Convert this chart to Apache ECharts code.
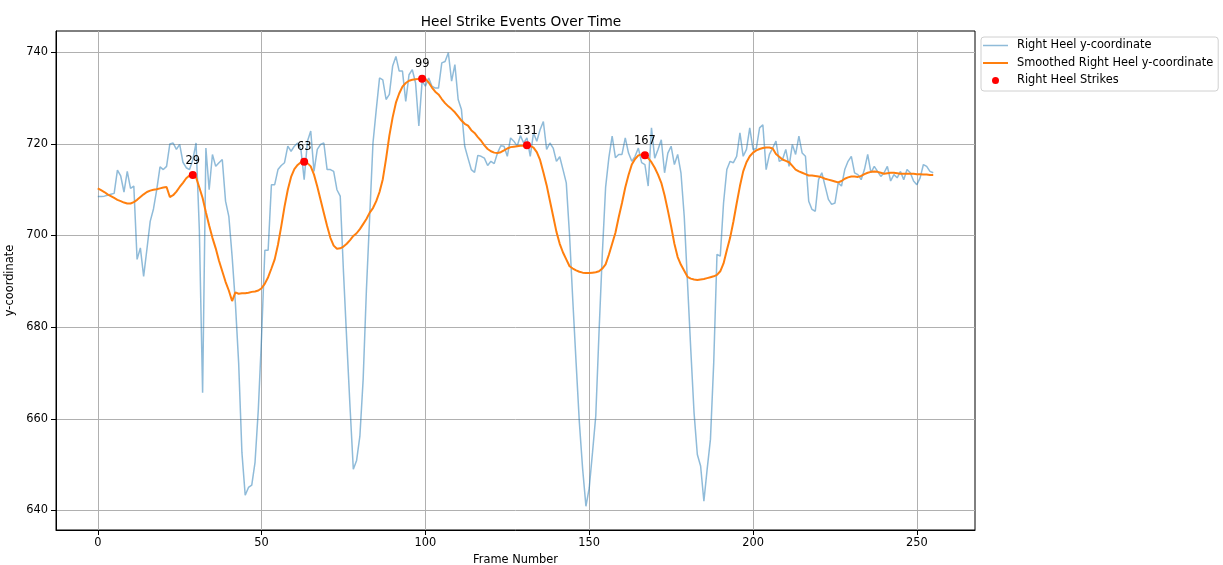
<!DOCTYPE html>
<html>
<head>
<meta charset="utf-8">
<script src="https://cdn.jsdelivr.net/npm/echarts@6/dist/echarts.min.js"></script>
<style>html,body{margin:0;padding:0;background:#fff}#c{width:1223px;height:565px}</style>
</head>
<body>
<div id="c"></div>
<script>
const rawY = [708.5,708.5,708.6,708.8,709.0,709.2,714.3,713.0,709.5,714.0,
710.3,710.8,694.8,697.3,691.1,697.0,703.1,705.8,710.0,715.0,
714.4,715.1,720.0,720.2,718.8,719.9,716.0,714.8,714.4,716.5,
720.2,701.3,665.7,719.1,710.0,717.7,715.1,715.9,716.6,707.5,
704.2,695.5,685.3,672.2,652.6,643.3,645.0,645.5,650.5,662.0,
678.0,696.8,696.8,711.1,711.1,714.4,715.3,715.9,719.5,718.4,
719.5,720.2,718.8,712.2,720.6,722.8,714.0,718.8,719.9,720.2,
714.4,714.4,714.0,710.0,708.6,692.0,677.0,662.5,649.0,650.9,
656.2,668.6,688.2,704.2,720.2,727.5,734.4,734.0,729.7,730.8,
737.0,739.1,735.9,735.9,729.3,735.1,736.2,733.3,723.9,733.7,
732.6,734.4,732.6,732.2,732.2,737.7,738.0,739.9,733.7,737.3,
729.7,727.5,719.5,716.9,714.4,713.8,717.5,717.3,716.9,715.3,
716.2,715.7,718.0,719.6,719.5,717.3,721.3,720.6,719.5,721.8,
720.2,721.3,717.3,722.4,720.6,723.1,724.9,718.8,720.2,719.1,
716.2,717.2,714.4,711.5,700.0,685.7,672.2,659.1,649.0,640.9,
644.9,652.6,660.6,679.0,696.0,710.5,717.0,721.7,717.0,717.7,
717.7,721.3,718.0,716.2,717.3,719.1,715.9,715.5,710.8,723.5,
716.9,718.8,720.9,713.7,718.0,719.5,715.5,717.7,713.7,704.2,
689.7,675.1,661.3,652.2,649.7,642.0,649.0,655.5,672.2,695.9,
695.5,707.1,714.4,716.2,715.9,717.3,722.4,717.3,718.8,723.5,
718.8,719.0,723.5,724.2,714.4,717.7,719.1,720.6,716.2,716.6,
718.8,715.1,719.9,717.7,721.7,718.0,717.3,707.5,705.7,705.3,
712.2,713.7,710.8,707.9,706.8,707.1,711.5,710.8,714.4,716.2,
717.3,713.7,713.3,712.2,714.4,717.7,713.7,715.1,714.0,712.9,
713.7,715.1,711.9,713.3,712.6,714.0,712.2,714.4,713.7,711.9,
711.1,712.6,715.5,715.1,714.0,713.7];

const smoothY = [710.3,709.9,709.5,709.0,708.6,708.2,707.8,707.5,707.2,707.0,
707.0,707.3,707.8,708.4,709.0,709.5,709.8,710.0,710.1,710.3,
710.5,710.6,708.4,708.8,709.6,710.6,711.5,712.5,713.1,713.2,
712.7,710.5,708.2,705.1,702.2,699.5,697.2,694.5,692.2,689.9,
688.0,685.7,687.6,687.3,687.4,687.4,687.5,687.7,687.8,688.0,
688.5,689.5,690.9,692.8,694.8,698.0,702.0,706.3,710.0,712.8,
714.5,715.4,716.0,716.1,715.8,715.1,713.3,710.7,707.8,704.9,
702.1,699.5,697.8,697.1,697.2,697.6,698.2,699.0,699.9,700.5,
701.4,702.5,703.6,705.0,706.0,707.5,709.5,712.3,716.8,721.8,
725.8,729.0,731.0,732.5,733.3,733.8,734.0,734.1,734.2,734.2,
734.2,733.4,732.3,731.4,730.8,729.8,728.9,728.2,727.6,726.9,
726.0,725.1,724.4,724.0,723.0,722.4,721.5,720.7,719.7,718.9,
718.4,718.1,718.0,718.2,718.6,719.0,719.3,719.4,719.5,719.6,
719.6,719.7,719.6,719.2,718.2,716.5,713.8,711.0,707.6,704.2,
700.8,698.2,696.3,694.8,693.3,692.8,692.4,692.1,691.9,691.8,
691.8,691.9,692.0,692.2,692.8,693.7,695.8,698.2,700.6,704.0,
707.1,710.5,713.2,715.5,716.7,717.5,717.7,717.5,716.9,716.0,
714.8,713.3,711.5,708.8,705.5,702.0,698.2,695.3,693.6,692.3,
691.0,690.6,690.4,690.3,690.4,690.5,690.7,690.9,691.1,691.4,
692.2,693.9,696.8,699.5,703.0,707.0,710.8,714.0,716.0,717.3,
718.1,718.6,718.9,719.1,719.2,719.2,719.0,717.8,717.2,716.6,
716.3,716.0,715.2,714.4,714.0,713.7,713.4,713.1,713.1,713.0,
712.9,712.7,712.4,712.2,712.0,711.8,711.6,711.9,712.4,712.7,
712.9,712.9,712.8,713.0,713.4,713.7,713.9,714.0,713.9,713.7,
713.5,713.6,713.7,713.7,713.6,713.5,713.5,713.5,713.5,713.5,
713.4,713.4,713.3,713.3,713.2,713.2];

const strikeFrames = [29, 63, 99, 131, 167];
const strikeValues = [713.2, 716.1, 734.2, 719.7, 717.5];

const xTicks = [0, 50, 100, 150, 200, 250];
const yTicks = [640, 660, 680, 700, 720, 740];

const FONT = '"DejaVu Sans", sans-serif';
const chart = echarts.init(document.getElementById('c'), null, {renderer: 'canvas'});

const rawData = rawY.map((v, i) => [i, v]);
const smoothData = smoothY.map((v, i) => [i, v]);
const strikeData = strikeFrames.map((f, i) => [f, strikeValues[i]]);

chart.setOption({
  animation: false,
  backgroundColor: '#fff',
  textStyle: {fontFamily: FONT},
  title: {
    text: 'Heel Strike Events Over Time',
    left: 516, top: 10, textAlign: 'center',
    textStyle: {fontFamily: FONT, fontSize: 13.7, fontWeight: 'normal', color: '#000'}
  },
  grid: {left: 56, top: 31, width: 919, height: 499, show: true, borderColor: '#000', borderWidth: 1,
         containLabel: false, outerBoundsMode: 'none'},
  legend: {
    orient: 'vertical', left: 981, top: 37,
    padding: [3, 5, 5, 2], itemGap: 6.5, itemWidth: 25, itemHeight: 7,
    borderColor: '#d0d0d0', borderWidth: 1, borderRadius: 3,
    textStyle: {fontFamily: FONT, fontSize: 11.4, color: '#000', padding: [0, 0, 0, 4]},
    data: [
      {name: 'Right Heel y-coordinate', icon: 'path://M0,0L25,0L25,1.5L0,1.5Z'},
      {name: 'Smoothed Right Heel y-coordinate', icon: 'path://M0,0L25,0L25,2L0,2Z'},
      {name: 'Right Heel Strikes', icon: 'circle'}
    ]
  },
  xAxis: {
    type: 'value', min: -12.75, max: 267.75,
    name: 'Frame Number', nameLocation: 'middle', nameGap: 25,
    nameTextStyle: {fontFamily: FONT, fontSize: 11.4, color: '#000'},
    axisLine: {onZero: false, lineStyle: {color: '#000'}},
    axisTick: {show: true, length: 5, lineStyle: {color: '#000'}, customValues: xTicks},
    axisLabel: {fontFamily: FONT, fontSize: 11.4, color: '#000', margin: 8, customValues: xTicks},
    splitLine: {show: true, lineStyle: {color: '#b0b0b0', width: 1}, customValues: xTicks}
  },
  yAxis: {
    type: 'value', min: 635.72, max: 744.65,
    name: 'y-coordinate', nameLocation: 'middle', nameGap: 34,
    nameTextStyle: {fontFamily: FONT, fontSize: 11.4, color: '#000'},
    axisLine: {show: true, onZero: false, lineStyle: {color: '#000'}},
    axisTick: {show: true, length: 5, lineStyle: {color: '#000'}, customValues: yTicks},
    axisLabel: {fontFamily: FONT, fontSize: 11.4, color: '#000', margin: 8, customValues: yTicks},
    splitLine: {show: true, lineStyle: {color: '#b0b0b0', width: 1}, customValues: yTicks}
  },
  series: [
    {
      name: 'Right Heel y-coordinate', type: 'line', data: rawData,
      symbol: 'none', lineStyle: {color: 'rgba(31,119,180,0.5)', width: 1.5},
      itemStyle: {color: 'rgba(31,119,180,0.5)'}, z: 2
    },
    {
      name: 'Smoothed Right Heel y-coordinate', type: 'line', data: smoothData,
      symbol: 'none', lineStyle: {color: '#ff7f0e', width: 2},
      itemStyle: {color: '#ff7f0e'}, z: 3
    },
    {
      name: 'Right Heel Strikes', type: 'scatter', data: strikeData,
      symbolSize: 8, itemStyle: {color: '#ff0000', opacity: 1}, z: 4,
      label: {
        show: true, position: 'top', distance: 5,
        fontFamily: FONT, fontSize: 11.4, color: '#000',
        formatter: p => String(p.value[0])
      }
    }
  ]
});
</script>
</body>
</html>
